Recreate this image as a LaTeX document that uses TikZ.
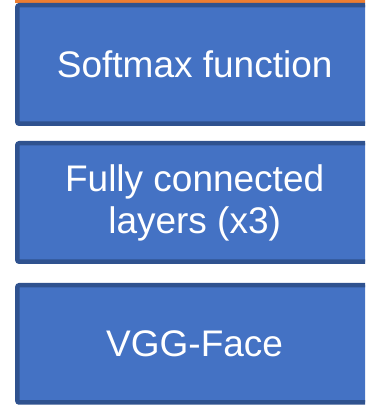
\documentclass[tikz,border=0pt]{standalone}
\usepackage{fontspec}
\setmainfont{Liberation Sans}
\definecolor{boxfill}{HTML}{4472C4}
\definecolor{boxline}{HTML}{2F528F}
\definecolor{topline}{HTML}{ED7D31}
\tikzset{
  layerbox/.style={draw=boxline, fill=boxfill, line width=4.5pt, rounded corners=2pt,
    minimum width=354.7pt, minimum height=118.5pt, inner sep=0pt, align=center,
    text=white, font=\fontsize{37}{42}\selectfont},
}
\begin{document}
\begin{tikzpicture}[x=1pt,y=1pt]
\useasboundingbox (0,0) rectangle (365,406);
\clip (0,0) rectangle (365,406);
\fill[topline] (15,403.4) rectangle (380,406);
\node[layerbox] (softmax) at (194.65,341.5) {Softmax function};
\node[layerbox] (fc) at (194.65,203.5) {Fully connected\\layers (x3)};
\node[layerbox, minimum height=117.3pt] (vgg) at (194.65,62.15) {VGG-Face};
\end{tikzpicture}
\end{document}
